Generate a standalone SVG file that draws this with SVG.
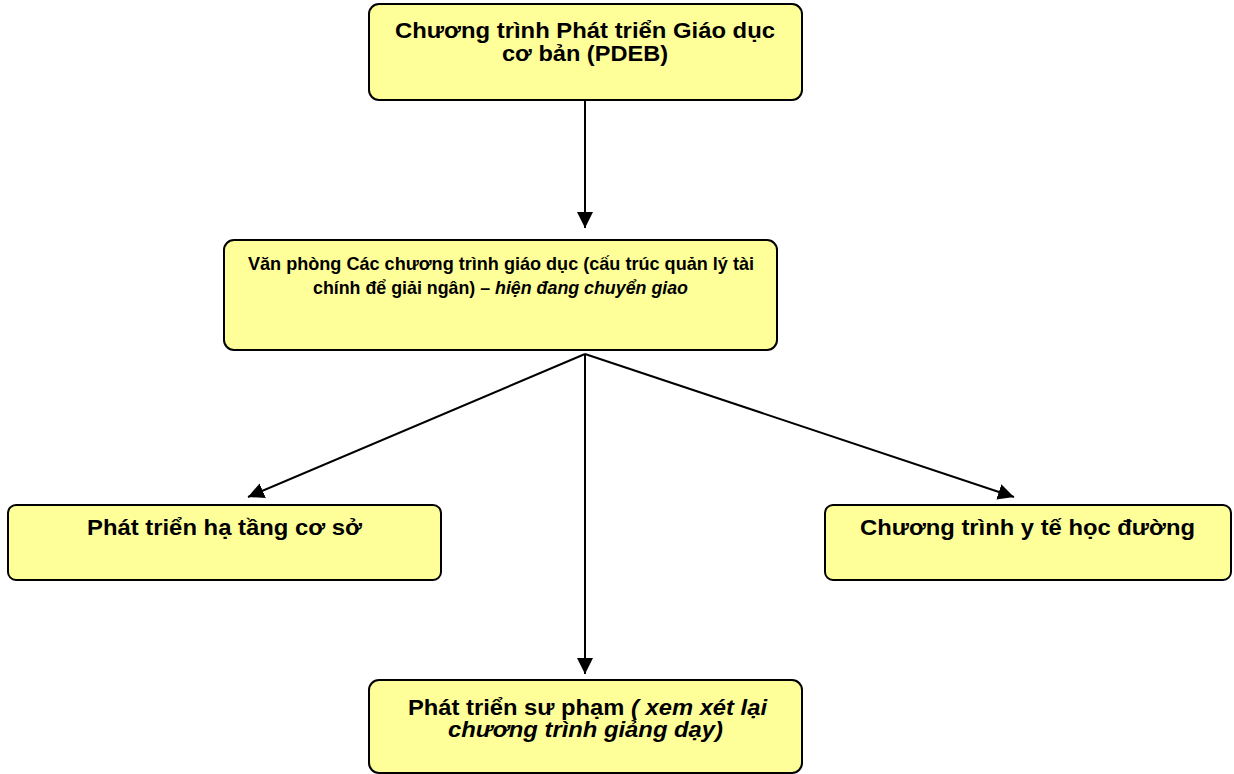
<svg xmlns="http://www.w3.org/2000/svg" width="1234" height="774" viewBox="0 0 1234 774">
<style>
.box{fill:#ffff99;stroke:#000;stroke-width:2}
.t{font-family:"Liberation Sans",Arial,sans-serif;font-weight:bold;font-size:22.5px;fill:#000}
.s{font-size:19px}
.i{font-style:italic}
.c{stroke:#000;stroke-width:2;fill:none}
</style>
<defs>
<marker id="b" viewBox="0 0 10 10" refX="10" refY="5" markerWidth="16" markerHeight="16" markerUnits="userSpaceOnUse" orient="auto">
<path d="M0,0 L10,5 L0,10 z" fill="#000"/>
</marker>
</defs>
<g id="n1"><rect class="box" x="369" y="4" width="433" height="96" rx="10"/>
<text class="t" x="395" y="38" textLength="380" lengthAdjust="spacingAndGlyphs">Chương trình Phát triển Giáo dục</text>
<text class="t" x="502" y="61" textLength="166" lengthAdjust="spacingAndGlyphs">cơ bản (PDEB)</text></g>
<g id="n2"><rect class="box" x="224" y="240" width="553" height="110" rx="10"/>
<text class="t s" x="248" y="270" textLength="506" lengthAdjust="spacingAndGlyphs">Văn phòng Các chương trình giáo dục (cấu trúc quản lý tài</text>
<text class="t s" x="313" y="294" textLength="375" lengthAdjust="spacingAndGlyphs">chính để giải ngân) – <tspan class="i">hiện đang chuyển giao</tspan></text></g>
<g id="n3"><rect class="box" x="8" y="505" width="433" height="75" rx="8"/>
<text class="t" x="87" y="535" textLength="275" lengthAdjust="spacingAndGlyphs">Phát triển hạ tầng cơ sở</text></g>
<g id="n4"><rect class="box" x="825" y="505" width="406" height="75" rx="8"/>
<text class="t" x="860" y="535" textLength="335" lengthAdjust="spacingAndGlyphs">Chương trình y tế học đường</text></g>
<g id="n5"><rect class="box" x="369" y="680" width="433" height="93" rx="10"/>
<text class="t" x="408" y="715" textLength="359" lengthAdjust="spacingAndGlyphs">Phát triển sư phạm <tspan class="i">( xem xét lại</tspan></text>
<text class="t i" x="448" y="737" textLength="275" lengthAdjust="spacingAndGlyphs">chương trình giảng dạy)</text></g>
<g id="connectors">
<line class="c" x1="585" y1="101" x2="585" y2="228" marker-end="url(#b)"/>
<line class="c" x1="585" y1="354" x2="248" y2="497" marker-end="url(#b)"/>
<line class="c" x1="585" y1="354" x2="1014" y2="497" marker-end="url(#b)"/>
<line class="c" x1="585" y1="354" x2="585" y2="674" marker-end="url(#b)"/>
</g>
</svg>
